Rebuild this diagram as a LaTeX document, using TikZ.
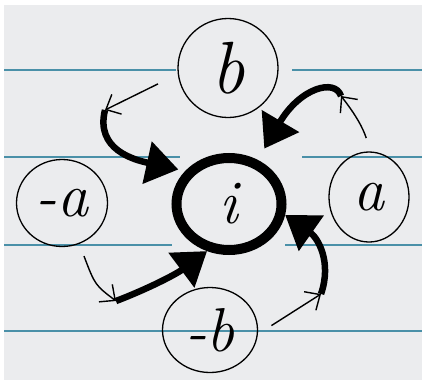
\documentclass[tikz,border=0pt]{standalone}
\usetikzlibrary{arrows.meta,shapes.geometric}
\definecolor{paper}{RGB}{235,236,238}
\definecolor{rulecol}{RGB}{74,144,168}
\begin{document}
\begin{tikzpicture}[x=1pt,y=-1pt,
  letter/.style={draw,ellipse,line width=1.3pt,inner sep=0pt,font=\fontsize{62}{62}\selectfont\itshape},
  thinarr/.style={line width=1.4pt,-{Straight Barb[length=12pt,width=22pt]}},
  thickarr/.style={line width=6.5pt,-{Triangle[length=32pt,width=42pt]}}]
  \useasboundingbox (0,0) rectangle (422,380);
  \fill[paper] (4,5) rectangle (422,380);
  % ruled lines
  \foreach \xa/\xb/\yy in {4/176/70, 292/422/70, 4/180/157, 302/422/157, 4/172/245, 285/422/245, 4/422/331}
    \draw[rulecol,line width=2.5pt] (\xa,\yy) -- (\xb,\yy);
  \node[letter,minimum width=100pt,minimum height=99pt,font=\fontsize{74}{74}\selectfont\itshape] (b) at (228,68) {b};
  \node[letter,minimum width=80pt,minimum height=90pt] (a) at (369,197) {a};
  \node[letter,minimum width=91pt,minimum height=87pt] (ma) at (62,203) {-a};
  \node[letter,minimum width=95pt,minimum height=85pt] (mb) at (210,330) {-b};
  \node[letter,line width=10pt,minimum width=105pt,minimum height=92pt] (i) at (229,204) {i};
  \coordinate (kb) at (105,110);
  \coordinate (ka) at (341,96);
  \coordinate (kmb) at (321,294);
  \coordinate (kma) at (116,301);
  \draw[thinarr,shorten <=22pt] (b.187) -- (kb);
  \draw[thinarr,shorten <=14pt] (a.88) to[bend right=10] (ka);
  \draw[thinarr,shorten <=16pt] (mb.355) -- (kmb);
  \draw[thinarr,shorten <=13pt] (ma.293) .. controls (95,285) .. (kma);
  % thick arrows into i
  \draw[thickarr,shorten >=7pt] (kb) .. controls (95,150) and (135,160) .. (i.143);
  \draw[thickarr,shorten >=13pt] (ka) .. controls (335,78) and (300,88) .. (i.57);
  \draw[thickarr] (kmb) .. controls (332,262) and (318,238) .. (i.349);
  \draw[thickarr] (kma) .. controls (145,290) and (175,275) .. (i.245);
\end{tikzpicture}
\end{document}
